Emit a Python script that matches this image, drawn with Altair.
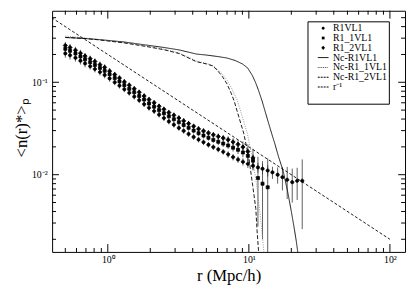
import altair as alt
import pandas as pd

# ---------------- data ----------------
r_pts = [0.50, 0.54, 0.59, 0.64, 0.69, 0.75, 0.81, 0.88, 0.95, 1.03,
         1.12, 1.21, 1.31, 1.42, 1.54, 1.67, 1.81, 1.96, 2.13, 2.31,
         2.50, 2.71, 2.94, 3.19, 3.45, 3.74, 4.06, 4.40, 4.77, 5.17,
         5.60, 6.07, 6.58, 7.13, 7.73, 8.38, 9.08, 9.84, 10.7, 11.6,
         12.5, 13.6, 14.7, 16.0, 17.3, 18.7, 20.3, 22.0, 23.9]

v_r1vl1 = [0.205, 0.196, 0.184, 0.171, 0.160, 0.149, 0.139, 0.129, 0.120, 0.110,
           0.100, 0.092, 0.084, 0.077, 0.070, 0.064, 0.058, 0.053, 0.0488, 0.0447,
           0.0410, 0.0377, 0.0348, 0.0321, 0.0298, 0.0276, 0.0256, 0.0240, 0.0225, 0.0211,
           0.0199, 0.0188, 0.0177, 0.0166, 0.0155, 0.0146, 0.0138, 0.0131, 0.0125, 0.0120,
           0.0116, 0.0111, 0.0106, 0.0100, 0.0094, 0.0088, 0.0083, 0.0086, 0.0086]
e_r1vl1 = [0.10, 0.10, 0.09, 0.09, 0.09, 0.08, 0.08, 0.08, 0.08, 0.08,
           0.07, 0.07, 0.07, 0.07, 0.07, 0.07, 0.07, 0.07, 0.07, 0.07,
           0.07, 0.07, 0.07, 0.07, 0.07, 0.07, 0.07, 0.07, 0.07, 0.07,
           0.07, 0.07, 0.07, 0.08, 0.08, 0.08, 0.09, 0.10, 0.11, 0.12,
           0.13, 0.14, 0.15, 0.20, 0.28, 0.38, 0.40, 0.38, 0.70]

v_r1_1vl1 = [0.230, 0.219, 0.205, 0.190, 0.177, 0.165, 0.154, 0.143, 0.133, 0.122,
             0.111, 0.102, 0.093, 0.085, 0.078, 0.071, 0.065, 0.059, 0.0545, 0.0500,
             0.0462, 0.0428, 0.0398, 0.0370, 0.0345, 0.0322, 0.0300, 0.0281, 0.0265, 0.0251,
             0.0238, 0.0227, 0.0217, 0.0207, 0.0196, 0.0186, 0.0174, 0.0160, 0.0142, 0.0092,
             0.0080, 0.0073]
e_r1_1vl1 = [0.09, 0.09, 0.09, 0.09, 0.08, 0.08, 0.08, 0.08, 0.08, 0.08,
             0.07, 0.07, 0.07, 0.07, 0.07, 0.07, 0.07, 0.07, 0.07, 0.07,
             0.07, 0.07, 0.07, 0.07, 0.07, 0.07, 0.07, 0.07, 0.07, 0.07,
             0.07, 0.08, 0.08, 0.08, 0.09, 0.10, 0.11, 0.13, 0.16, 0.70,
             0.75, 1.05]

v_r1_2vl1 = [0.250, 0.238, 0.222, 0.206, 0.192, 0.180, 0.168, 0.155, 0.145, 0.132,
             0.121, 0.111, 0.101, 0.093, 0.085, 0.078, 0.071, 0.065, 0.060, 0.055,
             0.051, 0.047, 0.0440, 0.0410, 0.0382, 0.0357, 0.0334, 0.0313, 0.0297, 0.0283,
             0.0270, 0.0259, 0.0249, 0.0239, 0.0226, 0.0213, 0.0199, 0.0178, 0.0152]
e_r1_2vl1 = [0.09, 0.09, 0.09, 0.09, 0.08, 0.08, 0.08, 0.08, 0.08, 0.08,
             0.07, 0.07, 0.07, 0.07, 0.07, 0.07, 0.07, 0.07, 0.07, 0.07,
             0.07, 0.07, 0.07, 0.07, 0.07, 0.07, 0.07, 0.07, 0.07, 0.07,
             0.07, 0.08, 0.08, 0.09, 0.10, 0.12, 0.15, 0.20, 0.25]

nc_r1vl1_r = [0.5, 0.6, 0.7, 0.86, 1.0, 1.3, 1.9, 2.5, 3.2, 4.25, 5.0, 6.0, 7.0, 8.0, 9.0,
              9.8, 10.6, 11.2, 11.7, 12.4, 13.4, 14.5, 15.3, 16.2, 17.5, 18.9, 20.0, 21.0, 21.7, 22.3]
nc_r1vl1_v = [0.305, 0.301, 0.297, 0.290, 0.284, 0.273, 0.252, 0.238, 0.224, 0.202, 0.197, 0.190,
              0.183, 0.172, 0.158, 0.143, 0.118, 0.098, 0.082, 0.063, 0.042, 0.028, 0.0215, 0.0158,
              0.011, 0.0064, 0.004, 0.0026, 0.0019, 0.0014]

nc_r1_1vl1_r = [0.5, 0.6, 0.7, 0.86, 1.0, 1.3, 1.9, 2.5, 3.2, 4.25, 5.0, 5.56, 6.0, 6.5, 7.0, 7.5,
                8.3, 9.0, 9.75, 10.6, 11.3, 11.9, 12.4, 12.8]
nc_r1_1vl1_v = [0.316, 0.308, 0.300, 0.290, 0.282, 0.270, 0.246, 0.228, 0.208, 0.170, 0.160, 0.152,
                0.138, 0.122, 0.105, 0.088, 0.063, 0.042, 0.028, 0.015, 0.0082, 0.0043, 0.0024, 0.0014]

nc_r1_2vl1_r = [0.5, 0.6, 0.7, 0.86, 1.0, 1.3, 1.9, 2.5, 3.2, 4.25, 5.0, 5.56, 6.0, 6.5, 7.0, 7.5,
                7.86, 8.5, 9.2, 10.0, 10.65, 11.2, 11.45, 11.75]
nc_r1_2vl1_v = [0.306, 0.302, 0.297, 0.288, 0.280, 0.267, 0.243, 0.225, 0.205, 0.167, 0.158, 0.150,
                0.134, 0.115, 0.096, 0.076, 0.063, 0.042, 0.028, 0.0152, 0.0076, 0.0043, 0.0024, 0.0014]

pow_r = [0.4, 100.0]
pow_v = [0.5, 0.002]

names = ["R1VL1", "R1_1VL1", "R1_2VL1", "Nc-R1VL1", "Nc-R1_1VL1", "Nc-R1_2VL1", "r⁻¹"]
line_colors = ["black", "#8a8a8a", "black", "black"]
line_dashes = [[1, 0], [1, 1.4], [4, 2], [3, 2]]

x_major = [1, 10, 100]
x_minor = [0.5, 0.6, 0.7, 0.8, 0.9, 2, 3, 4, 5, 6, 7, 8, 9, 20, 30, 40, 50, 60, 70, 80, 90]
y_major = [0.01, 0.1]
y_minor = [0.002, 0.003, 0.004, 0.005, 0.006, 0.007, 0.008, 0.009,
           0.02, 0.03, 0.04, 0.05, 0.06, 0.07, 0.08, 0.09, 0.2, 0.3, 0.4, 0.5]

# ---------------- tables ----------------
rows = []
for name, vals, errs in [(names[0], v_r1vl1, e_r1vl1),
                         (names[1], v_r1_1vl1, e_r1_1vl1),
                         (names[2], v_r1_2vl1, e_r1_2vl1)]:
    for r, v, f in zip(r_pts, vals, errs):
        rows.append({"series": name, "r": r, "v": v,
                     "lo": max(v * (1 - f), 1e-4), "hi": v * (1 + f)})
pts = pd.DataFrame(rows)

lrows = []
for name, rr, vv in [(names[3], nc_r1vl1_r, nc_r1vl1_v),
                     (names[4], nc_r1_1vl1_r, nc_r1_1vl1_v),
                     (names[5], nc_r1_2vl1_r, nc_r1_2vl1_v),
                     (names[6], pow_r, pow_v)]:
    for r, v in zip(rr, vv):
        lrows.append({"series": name, "r": r, "v": v})
lines = pd.DataFrame(lrows)

W, H = 360, 246
FONT = "Liberation Serif"

xscale = alt.Scale(type="log", domain=[0.403, 128], nice=False)
yscale = alt.Scale(type="log", domain=[0.00146, 0.594], nice=False)

x_axis = alt.Axis(values=x_major, title="r (Mpc/h)", grid=False, ticks=False, tickSize=0,
                  domain=False, labelFont=FONT, labelFontSize=10, labelColor="black",
                  labelBaseline="alphabetic", labelPadding=11,
                  labelExpr="datum.value == 1 ? '10⁰' : (datum.value == 10 ? '10¹' : '10²')",
                  titleFont=FONT, titleFontSize=17, titleFontWeight="normal", titleColor="black",
                  titleBaseline="alphabetic", titleY=29)
y_axis = alt.Axis(values=y_major, title="<n(r)*>ₚ", grid=False, ticks=False, tickSize=0,
                  domain=False, labelFont=FONT, labelFontSize=10, labelColor="black",
                  labelPadding=5,
                  labelExpr="datum.value == 0.1 ? '10⁻¹' : '10⁻²'",
                  titleFont=FONT, titleFontSize=17, titleFontWeight="normal", titleColor="black",
                  titleX=-22, titleY=119)

X = alt.X("r:Q", scale=xscale, axis=x_axis)
Y = alt.Y("v:Q", scale=yscale, axis=y_axis)

# marker and legend glyphs (unit box -1..1, scaled by symbol size)
circle = "M-0.3,0A0.3,0.3 0 1,1 0.3,0A0.3,0.3 0 1,1 -0.3,0Z"
square = "M-0.28,-0.28L0.28,-0.28L0.28,0.28L-0.28,0.28Z"
diamond = "M0,-0.42L0.38,0L0,0.42L-0.38,0Z"
solid = "M-1.1,-0.09L1.1,-0.09L1.1,0.09L-1.1,0.09Z"
dotted = ("M-1.1,-0.09h0.18v0.18h-0.18Z M-0.74,-0.09h0.18v0.18h-0.18Z "
          "M-0.38,-0.09h0.18v0.18h-0.18Z M-0.02,-0.09h0.18v0.18h-0.18Z "
          "M0.34,-0.09h0.18v0.18h-0.18Z M0.70,-0.09h0.18v0.18h-0.18Z")
dashed = ("M-1.1,-0.09h0.4v0.18h-0.4Z M-0.5,-0.09h0.4v0.18h-0.4Z "
          "M0.1,-0.09h0.4v0.18h-0.4Z M0.7,-0.09h0.4v0.18h-0.4Z")
blank = "M0,0L0,0"

nb = "\u00a0"
legend_names = names + [nb]
legend = alt.Legend(title=None, orient="none", legendX=260.5, legendY=10.8,
                    strokeColor="black", fillColor="white", padding=2,
                    symbolSize=100, symbolStrokeWidth=0, symbolOffset=9,
                    labelFont=FONT, labelFontSize=10, labelColor="black", labelOffset=5,
                    rowPadding=0,
                    labelExpr="datum.label + '" + nb * 19 + "'")

shape_enc = alt.Shape("series:N", scale=alt.Scale(domain=legend_names,
                      range=[circle, square, diamond, solid, dotted, dashed, dashed, blank]),
                      legend=legend)
dash_enc = alt.StrokeDash("series:N", scale=alt.Scale(domain=names[3:], range=line_dashes),
                          legend=None)
color_enc = alt.Color("series:N", scale=alt.Scale(domain=names[3:], range=line_colors),
                      legend=None)

errbars = alt.Chart(pts).mark_rule(color="#333333", strokeWidth=0.8, clip=True).encode(
    x=X, y=alt.Y("lo:Q", scale=yscale, axis=y_axis), y2="hi:Q")

points = alt.Chart(pts).mark_point(filled=True, fill="black", color="black", stroke="black",
                                   strokeWidth=0.8, size=121, opacity=1, clip=True).encode(
    x=X, y=Y, shape=shape_enc)

curves = alt.Chart(lines).mark_line(strokeWidth=0.9, clip=True).encode(
    x=X, y=Y, strokeDash=dash_enc, color=color_enc)

def xticks(vals, length):
    df = pd.DataFrame({"r": vals})
    b = alt.Chart(df).mark_rule(color="black", strokeWidth=1).encode(
        x=X, y=alt.value(H), y2=alt.value(H - length))
    t = alt.Chart(df).mark_rule(color="black", strokeWidth=1).encode(
        x=X, y=alt.value(0), y2=alt.value(length))
    return [b, t]

def yticks(vals, length):
    df = pd.DataFrame({"v": vals})
    l = alt.Chart(df).mark_rule(color="black", strokeWidth=1).encode(
        y=Y, x=alt.value(0), x2=alt.value(length))
    r = alt.Chart(df).mark_rule(color="black", strokeWidth=1).encode(
        y=Y, x=alt.value(W), x2=alt.value(W - length))
    return [l, r]

layers = [errbars, curves, points] + xticks(x_major, 8) + xticks(x_minor, 4) \
    + yticks(y_major, 7) + yticks(y_minor, 4)

chart = alt.layer(*layers).resolve_scale(color="independent").properties(
    width=W, height=H,
    autosize=alt.AutoSizeParams(type="none"),
    padding={"left": 45, "top": 0, "right": 2, "bottom": 35},
    background="white",
).configure_view(stroke="black", strokeWidth=1)

chart.save("out.html", embed_options={"renderer": "svg", "actions": False})
